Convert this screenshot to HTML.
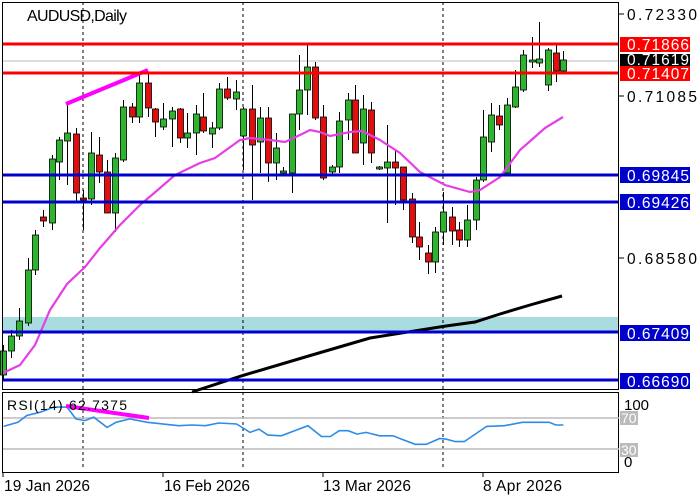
<!DOCTYPE html>
<html><head><meta charset="utf-8"><style>
body{margin:0;background:#fff;}
svg{display:block;font-family:"Liberation Sans",sans-serif;}
</style></head><body>
<svg id="s" width="700" height="500" xmlns="http://www.w3.org/2000/svg">
<rect width="700" height="500" fill="#fff"/>
<rect x="2" y="317" width="617" height="15" fill="#a8dce0"/>
<g stroke="#000" stroke-dasharray="3,3" stroke-width="1">
<line x1="83" y1="2" x2="83" y2="470"/><line x1="243" y1="2" x2="243" y2="470"/><line x1="443" y1="2" x2="443" y2="470"/>
</g>
<line x1="2" y1="61" x2="619" y2="61" stroke="#bbb"/>
<g id="c"></g>
<polyline fill="none" stroke="#e53ee5" stroke-width="2.2" points="3,373 20,365 35,345 50,310 67,284 85,267 100,248 120,225 140,205 160,188 175,175 200,163 215,158 240,140 250,138 270,140 285,142 300,135 310,130 320,132 330,136 340,134 350,132 362,131 380,140 400,153 420,172 445,185 470,192 480,190 500,177 520,150 545,128 563,117"/>
<polyline fill="none" stroke="#000" stroke-width="3" points="192,392 241,376 312,355 370,338 446,326 475,322 500,314 530,305 562,296"/>
<line x1="66" y1="104" x2="148" y2="70" stroke="#f0f" stroke-width="4"/>
<g stroke-width="3">
<line x1="2" y1="44" x2="619" y2="44" stroke="#f00"/><line x1="2" y1="73" x2="619" y2="73" stroke="#f00"/>
<line x1="2" y1="175" x2="619" y2="175" stroke="#00c"/><line x1="2" y1="202" x2="619" y2="202" stroke="#00c"/>
<line x1="2" y1="332" x2="619" y2="332" stroke="#00c"/><line x1="2" y1="380" x2="619" y2="380" stroke="#00c"/>
</g>
<rect x="2.5" y="2.5" width="616" height="387" fill="none" stroke="#000"/>
<rect x="2.5" y="392.5" width="616" height="80" fill="none" stroke="#000"/>
<line x1="3" y1="418" x2="619" y2="418" stroke="#bbb" stroke-width="1.5"/>
<line x1="3" y1="449" x2="619" y2="449" stroke="#bbb" stroke-width="1.5"/>
<polyline id="rsi" fill="none" stroke="#2e8be6" stroke-width="1.6"/>
<line x1="66" y1="406" x2="149" y2="418" stroke="#f0f" stroke-width="4"/>
<text x="7" y="410" font-size="14" textLength="120" fill="#000">RSI(14) 62.7375</text>
<text x="27" y="21" font-size="16" textLength="100" fill="#000">AUDUSD,Daily</text>
<g font-size="15.5" fill="#000">
<text x="627" y="20" textLength="70">0.72330</text><text x="627" y="102" textLength="70">0.71085</text><text x="627" y="264" textLength="70">0.68580</text>
</g>
<g font-size="15.5">
<rect x="620" y="37" width="70" height="15" fill="#f00"/><text x="627" y="50" textLength="62" fill="#fff">0.71866</text>
<rect x="620" y="54" width="70" height="12" fill="#000"/><text x="627" y="65" textLength="62" fill="#fff">0.71619</text>
<rect x="620" y="66" width="70" height="15" fill="#f00"/><text x="627" y="79" textLength="62" fill="#fff">0.71407</text>
<rect x="620" y="167" width="70" height="16" fill="#00c"/><text x="627" y="181" textLength="62" fill="#fff">0.69845</text>
<rect x="620" y="194" width="70" height="16" fill="#00c"/><text x="627" y="208" textLength="62" fill="#fff">0.69426</text>
<rect x="620" y="325" width="70" height="16" fill="#00c"/><text x="627" y="339" textLength="62" fill="#fff">0.67409</text>
<rect x="620" y="373" width="70" height="16" fill="#00c"/><text x="627" y="387" textLength="62" fill="#fff">0.66690</text>
</g>
<rect x="620" y="411" width="18" height="14" fill="#bbb"/><text x="621" y="423" font-size="14" fill="#fff">70</text>
<rect x="620" y="443" width="18" height="14" fill="#bbb"/><text x="621" y="455" font-size="14" fill="#fff">30</text>
<text x="624" y="410" font-size="15">100</text><text x="624" y="467" font-size="15">0</text>
<g stroke="#000"><line x1="619" y1="14" x2="624" y2="14"/><line x1="619" y1="96" x2="624" y2="96"/><line x1="619" y1="258" x2="624" y2="258"/>
<line x1="3" y1="472" x2="3" y2="477"/><line x1="163" y1="472" x2="163" y2="477"/><line x1="323" y1="472" x2="323" y2="477"/><line x1="483" y1="472" x2="483" y2="477"/></g>
<g font-size="15.5"><text x="4" y="491" textLength="86">19 Jan 2026</text><text x="164" y="491" textLength="86">16 Feb 2026</text><text x="323" y="491" textLength="88">13 Mar 2026</text><text x="483" y="491" textLength="79">8 Apr 2026</text></g>
</svg>
<script>
var d=[[3,351,375,345,380,1],[11,336,351,330,358,1],[19,321,336,308,340,1],[28,270,323,258,326,1],[35,235,270,230,275,1],[43,217,221,210,227,0],[52,159,223,155,230,1],[59,140,162,137,180,1],[67,133,141,103,185,1],[76,134,193,128,203,0],[83,198,200,190,230,0],[91,153,199,132,205,1],[99,155,172,137,183,0],[107,172,213,160,213,0],[115,158,213,153,232,1],[123,107,160,100,162,1],[132,107,117,103,123,0],[139,83,117,75,123,1],[148,83,108,72,117,0],[155,109,122,108,137,0],[163,119,127,103,130,1],[172,111,119,107,147,1],[180,109,138,108,143,0],[187,133,138,113,148,1],[196,114,133,105,155,1],[203,117,131,93,133,0],[212,128,134,122,148,1],[219,89,128,83,130,1],[227,89,98,77,100,0],[236,92,99,80,110,1],[243,109,136,107,170,1],[252,109,145,85,200,0],[260,118,142,107,173,1],[268,118,163,107,182,0],[276,148,163,133,180,1],[283,171,173,167,175,1],[292,114,173,114,193,1],[299,90,114,55,130,1],[307,67,90,45,115,1],[315,67,118,62,120,0],[323,117,178,105,180,0],[332,167,172,165,174,1],[339,121,167,112,173,1],[348,100,120,93,140,1],[355,100,153,85,153,0],[363,109,143,95,165,1],[371,110,153,102,163,0],[379,167,169,166,170,1],[387,162,168,125,223,1],[395,162,168,149,205,0],[403,167,200,167,210,0],[412,199,237,193,243,0],[419,237,247,222,260,0],[428,253,262,245,274,0],[435,232,262,227,273,1],[443,212,232,192,245,1],[452,217,231,207,245,0],[459,230,240,222,247,0],[467,220,240,205,247,1],[476,180,220,177,230,1],[483,137,180,110,182,1],[491,115,142,103,152,1],[499,116,125,105,130,0],[507,105,173,98,173,1],[515,87,107,70,108,1],[523,55,90,50,92,1],[532,60,62,37,68,1],[539,59,63,22,67,1],[548,50,85,48,91,1],[556,53,71,45,82,0],[563,60,71,51,72,1]];
var h='';d.forEach(function(c){var x=c[0];h+='<line x1="'+(x+.5)+'" y1="'+c[3]+'" x2="'+(x+.5)+'" y2="'+c[4]+'" stroke="#000"/>';h+='<rect x="'+(x-2.5)+'" y="'+c[1]+'" width="6" height="'+Math.max(1,c[2]-c[1])+'" fill="'+(c[5]?'#2db52d':'#e01010')+'" stroke="#000" stroke-width="0.8"/>';});
document.getElementById('c').innerHTML=h;
var r=[[8,522],[40,510],[60,490],[90,480],[120,465],[150,465],[170,500],[190,505],[210,495],[240,525],[260,510],[290,500],[330,510],[400,520],[430,518],[460,520],[490,512],[530,515],[560,540],[580,530],[600,548],[630,550],[660,535],[690,520],[720,552],[740,552],[760,535],[780,535],[800,545],[820,540],[850,550],[880,550],[900,560],[930,575],[955,575],[985,558],[1000,560],[1020,567],[1040,567],[1090,522],[1130,520],[1170,510],[1230,510],[1245,518],[1262,518]];
document.getElementById('rsi').setAttribute('points',r.map(function(p){return (p[0]/2.24).toFixed(1)+','+(250+p[1]/2.96).toFixed(1)}).join(' '));
</script>
</body></html>
